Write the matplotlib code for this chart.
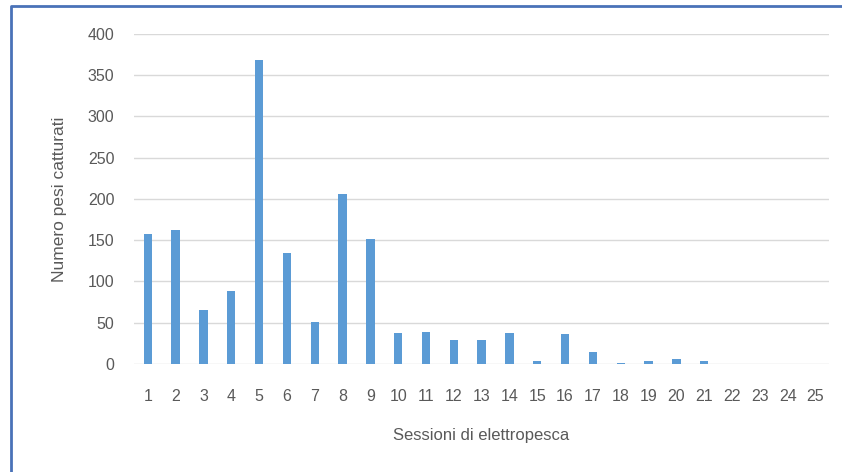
import numpy as np
import matplotlib.pyplot as plt
from matplotlib.lines import Line2D

# catture per sessione di elettropesca
sessions = list(range(1, 26))
catches = [157, 162, 65, 88, 368, 134, 51, 206, 152, 37, 39, 29, 29, 37, 4,
           36, 14, 1, 3, 6, 4, 0, 0, 0, 0]
y_ticks = [0, 50, 100, 150, 200, 250, 300, 350, 400]

plt.rcParams['font.family'] = ['Liberation Sans', 'DejaVu Sans']

fig = plt.figure(figsize=(8.42, 4.72), dpi=100)
ax = fig.add_axes([0.159, 0.229, 0.826, 0.699])

ax.bar(sessions, catches, width=0.3, color='#5B9BD5', zorder=3)

ax.set_xlim(0.5, 25.5)
ax.set_ylim(0, 400)
ax.set_xticks(sessions)
ax.set_yticks(y_ticks)
ax.grid(axis='y', color='#D9D9D9', linewidth=1, zorder=0)
for s in ax.spines.values():
    s.set_visible(False)
ax.tick_params(axis='both', length=0, labelsize=11.5, labelcolor='#595959')
ax.tick_params(axis='x', pad=18)
ax.tick_params(axis='y', pad=14)

ax.set_xlabel('Sessioni di elettropesca', fontsize=12, color='#595959', labelpad=17)
ax.set_ylabel('Numero pesi catturati', fontsize=12.5, color='#595959', labelpad=15)

# cornice blu (solo sinistra e in alto, immagine ritagliata)
fig.add_artist(Line2D([11 / 842, 11 / 842, 1], [0, 1 - 6 / 472, 1 - 6 / 472],
                      transform=fig.transFigure, color='#4A72B8', linewidth=2))

fig.savefig('out.png', dpi=100)
